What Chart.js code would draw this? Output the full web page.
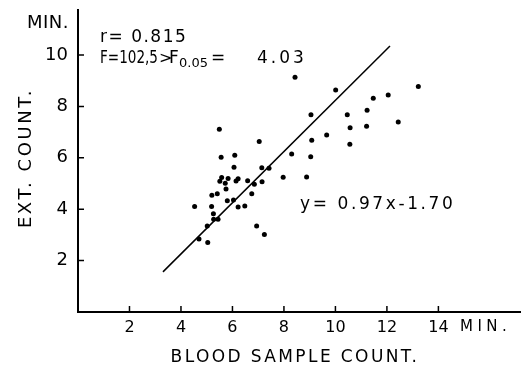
<!DOCTYPE html>
<html>
<head>
<meta charset="utf-8">
<script src="https://cdn.jsdelivr.net/npm/chart.js@4/dist/chart.umd.min.js"></script>
<style>
  html, body { margin: 0; padding: 0; background: #fff; }
  canvas { display: block; }
</style>
</head>
<body>
<canvas id="myChart" width="525" height="365"></canvas>
<script>
// blood sample count (min) vs ext. count (min)
const BLOOD = [5.49, 7.04, 5.56, 6.09, 6.06, 7.14, 7.42, 5.58, 5.83, 6.22,
    5.51, 5.72, 6.14, 6.59, 6.85, 7.15, 5.75, 6.75, 5.20, 5.41,
    5.80, 6.04, 4.53, 5.19, 6.22, 6.48, 5.26, 5.27, 5.44, 6.94,
    5.02, 7.24, 4.70, 5.04,
    8.43, 10.01, 13.22, 11.47, 12.05, 9.05, 10.46, 11.23, 10.57, 11.21,
    12.44, 9.08, 9.66, 10.56, 8.30, 9.04, 7.97, 8.88];
const EXT = [7.11, 6.63, 6.02, 6.10, 5.63, 5.61, 5.59, 5.23, 5.19, 5.18,
    5.09, 5.01, 5.10, 5.11, 4.97, 5.07, 4.79, 4.60, 4.54, 4.60,
    4.33, 4.36, 4.10, 4.10, 4.09, 4.12, 3.82, 3.61, 3.61, 3.35,
    3.35, 3.02, 2.84, 2.70,
    9.13, 8.64, 8.77, 8.32, 8.44, 7.67, 7.67, 7.85, 7.17, 7.23,
    7.39, 6.68, 6.89, 6.53, 6.15, 6.04, 5.24, 5.25];

// regression line ends as drawn
const FIT_X = [3.30, 12.12];
const FIT_Y = [1.56, 10.35];

const X_TICKS = [2, 4, 6, 8, 10, 12, 14];
const Y_TICKS = [2, 4, 6, 8, 10];

const FONT = 'DejaVu Sans';
Chart.defaults.font.family = FONT;
Chart.defaults.color = '#000';

function txt(ctx, s, x, y, size, spacing, align, maxW) {
    ctx.font = size + 'px "' + FONT + '"';
    ctx.letterSpacing = (spacing || 0) + 'px';
    ctx.textAlign = align || 'left';
    ctx.textBaseline = 'alphabetic';
    if (maxW) {
        ctx.fillText(s, x, y, maxW);
    } else {
        ctx.fillText(s, x, y);
    }
}

const annotations = {
    id: 'annotations',
    afterDraw(chart) {
        const ctx = chart.ctx;
        const xs = chart.scales.x;
        const ys = chart.scales.y;
        ctx.save();
        // inward tick marks
        ctx.strokeStyle = '#000';
        ctx.lineWidth = 1.5;
        ctx.beginPath();
        for (const v of X_TICKS) {
            const px = xs.getPixelForValue(v);
            ctx.moveTo(px, ys.bottom);
            ctx.lineTo(px, ys.bottom - 6);
        }
        for (const v of Y_TICKS) {
            const py = ys.getPixelForValue(v);
            ctx.moveTo(xs.left, py);
            ctx.lineTo(xs.left + 6, py);
        }
        ctx.stroke();

        ctx.fillStyle = '#000';
        txt(ctx, 'MIN.', 27, 28, 18, 0.5);
        txt(ctx, 'r= 0.815', 100, 42, 17, 1.5);
        txt(ctx, 'F=102,5', 100, 63, 17, 0, 'left', 58);
        txt(ctx, '>', 159, 63, 16, 0);
        txt(ctx, 'F', 169, 63, 17, 0);
        txt(ctx, '0.05', 179, 67, 13, 0, 'left', 29);
        txt(ctx, '=', 211, 63, 17, 0);
        txt(ctx, '4.03', 257, 63, 17, 3);
        txt(ctx, 'y= 0.97x-1.70', 300, 209, 17, 2.6);
        txt(ctx, 'MIN.', 460, 331, 15, 4.5);
        txt(ctx, 'BLOOD SAMPLE COUNT.', 295, 362, 17, 2.4, 'center');

        ctx.translate(31, 158);
        ctx.rotate(-Math.PI / 2);
        txt(ctx, 'EXT. COUNT.', 0, 0, 18, 2.6, 'center');
        ctx.restore();
    }
};

const points = BLOOD.map((x, i) => ({ x: x, y: EXT[i] }));
const fit = FIT_X.map((x, i) => ({ x: x, y: FIT_Y[i] }));

new Chart(document.getElementById('myChart'), {
    type: 'scatter',
    data: {
        datasets: [
            {
                data: points,
                pointRadius: 2.5,
                pointBackgroundColor: '#000',
                pointBorderWidth: 0,
            },
            {
                data: fit,
                showLine: true,
                borderColor: '#000',
                borderWidth: 1.5,
                pointRadius: 0,
            },
        ],
    },
    options: {
        responsive: false,
        animation: false,
        layout: { padding: { left: 0, right: 5, top: 10, bottom: 0 } },
        plugins: { legend: { display: false }, tooltip: { enabled: false } },
        scales: {
            x: {
                type: 'linear',
                min: 0,
                max: 17.17,
                afterBuildTicks: (s) => { s.ticks = X_TICKS.map((v) => ({ value: v })); },
                afterFit: (s) => {
                    s.height = 53;
                    s.paddingLeft = 0;
                    s.paddingRight = 0;
                },
                ticks: { font: { size: 16 }, padding: 6, maxRotation: 0, autoSkip: false },
                grid: { drawOnChartArea: false, drawTicks: false },
                border: { color: '#000', width: 2 },
            },
            y: {
                type: 'linear',
                min: 0,
                max: 11.75,
                afterBuildTicks: (s) => { s.ticks = Y_TICKS.map((v) => ({ value: v })); },
                afterFit: (s) => {
                    s.width = 78;
                    s.paddingTop = 0;
                    s.paddingBottom = 0;
                },
                ticks: { font: { size: 18 }, padding: 10, autoSkip: false },
                grid: { drawOnChartArea: false, drawTicks: false },
                border: { color: '#000', width: 2 },
            },
        },
    },
    plugins: [annotations],
});
</script>
</body>
</html>
